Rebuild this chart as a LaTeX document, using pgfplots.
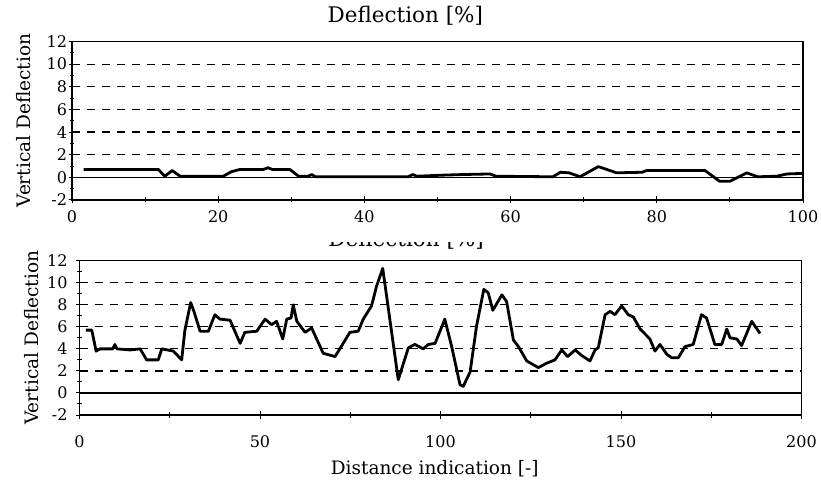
\documentclass[border=0pt]{standalone}
\usepackage{fontspec}
\setmainfont{DejaVu Serif}
\usepackage{pgfplots}
\pgfplotsset{compat=1.18}

\pgfplotsset{
  defl/.style={
    scale only axis,
    axis line style={black, line width=1.1bp},
    ymin=-2, ymax=12,
    ytick={-2,0,...,12},
    yticklabels={-2,0,2,4,6,8,10,12},
    minor ytick={-1,1,...,11},
    xtick pos=left, ytick pos=left,
    tick align=center,
    major tick length=7bp, minor tick length=5bp,
    tick style={black, line width=1bp},
    ymajorgrids,
    major grid style={black, line width=1.2bp, dash pattern=on 8bp off 7bp},
    tick label style={font=\fontsize{16bp}{19bp}\selectfont},
    label style={font=\fontsize{18.5bp}{22bp}\selectfont},
    ylabel={Vertical Deflection},
  },
  curve/.style={black, line width=2.8bp, line join=round, no markers},
}

\begin{document}
\begin{tikzpicture}
\useasboundingbox (0bp,0bp) rectangle (821bp,481bp);

% upper chart
\begin{axis}[defl,
  at={(72bp,281bp)}, anchor=south west,
  width=731bp, height=158.5bp,
  xmin=0, xmax=100,
  xtick={0,20,...,100},
  xticklabels={0,20,40,60,80,100},
  minor xtick={10,30,...,90},
  xticklabel style={yshift=-4bp},
  yticklabel style={xshift=2bp},
  ylabel style={at={(axis description cs:-0.066,0.5)}, anchor=center},
  title={Deflection [\%]},
  title style={at={(axis description cs:0.456,1.123)}, anchor=center,
    font=\fontsize{21.5bp}{25bp}\selectfont},
]
\addplot [black, line width=1.1bp] coordinates {(0,0) (100,0)};
\addplot [curve] coordinates {
  (1.6,0.7)(11.8,0.7)(12.7,0.1)(13.7,0.6)(14.8,0.1)(20.7,0.1)(21.8,0.5)
  (23,0.7)(26.2,0.7)(26.8,0.85)(27.4,0.7)(29.8,0.7)(31,0.1)(32.3,0.1)
  (32.8,0.25)(33.3,0.05)(46,0.05)(46.6,0.25)(47.2,0.1)(49,0.15)(51,0.2)
  (53.5,0.25)(57.2,0.3)(58,0.1)(65.8,0.05)(66.8,0.45)(68,0.4)(69.5,0.05)
  (72,0.95)(74.5,0.4)(78,0.45)(78.6,0.6)(86.6,0.6)(88.6,-0.35)(90,-0.35)
  (92.3,0.4)(93.8,0.05)(96.4,0.1)(97.8,0.3)(100,0.35)
};
\end{axis}

% partly hidden title of the lower chart
\begin{scope}
\clip (300bp,238bp) rectangle (520bp,225bp);
\node[font=\fontsize{21.5bp}{25bp}\selectfont] at (406bp,241bp) {Deflection [\%]};
\end{scope}

% lower chart
\begin{axis}[defl,
  at={(79.5bp,66bp)}, anchor=south west,
  width=722bp, height=154.3bp,
  xmin=0, xmax=200,
  xtick={0,50,...,200},
  xticklabels={0,50,100,150,200},
  minor xtick={25,75,...,175},
  xticklabel style={yshift=-14bp},
  yticklabel style={xshift=-5bp},
  ylabel style={at={(axis description cs:-0.067,0.5)}, anchor=center},
  xlabel={Distance indication [-]},
  xlabel style={at={(axis description cs:0.492,-0.345)}, anchor=center},
]
\addplot [black, line width=1.1bp] coordinates {(0,0) (200,0)};
\addplot [curve] coordinates {
  (1.8,5.7)(3.4,5.7)(4.6,3.8)(5.7,4.0)(9.2,4.0)(9.8,4.4)(10.4,4.0)(14,3.9)
  (16.8,4.0)(18.6,3.0)(21.8,3.0)(22.8,4.0)(26,3.8)(28.3,3.0)(29.2,5.7)
  (30.8,8.2)(31.7,7.4)(33.4,5.6)(35.7,5.6)(37.5,7.1)(38.9,6.7)(41.7,6.6)
  (44.5,4.5)(45.8,5.5)(49.1,5.6)(51.4,6.7)(53.2,6.2)(54.6,6.5)(56.3,4.9)
  (57.4,6.7)(58.6,6.8)(59.2,8.0)(60.2,6.5)(62.5,5.5)(64.3,5.9)(67.5,3.6)
  (70.8,3.3)(74.9,5.5)(77.2,5.6)(78.6,6.7)(80.9,7.9)(82.3,9.7)(84,11.3)
  (88.3,1.2)(91.1,4.1)(92.9,4.4)(95.2,4.0)(96.6,4.4)(98.5,4.5)(101.2,6.7)
  (103.1,4.2)(105.4,0.75)(106.3,0.6)(108.2,1.9)(110,6.1)(112,9.4)
  (113.2,9.1)(114.5,7.5)(117,8.9)(118.3,8.3)(120.2,4.8)(121.6,4.2)
  (123.9,2.9)(127.1,2.3)(129.4,2.7)(131.7,3.0)(133.6,3.9)(135.2,3.3)
  (137.3,3.9)(139.1,3.4)(141.4,2.9)(142.8,3.9)(143.7,4.1)(145.6,7.1)
  (147,7.4)(148.3,7.1)(150.2,7.9)(152,7.1)(153.4,6.9)(155.3,5.8)(158,4.9)
  (159.4,3.8)(160.8,4.4)(162.7,3.5)(164,3.2)(165.9,3.2)(167.7,4.2)
  (170,4.4)(172.3,7.1)(173.7,6.8)(176,4.4)(177.9,4.4)(179.3,5.8)
  (180.2,5.0)(182.1,4.9)(183.4,4.3)(186.2,6.5)(188.5,5.4)
};
\end{axis}
\end{tikzpicture}
\end{document}
